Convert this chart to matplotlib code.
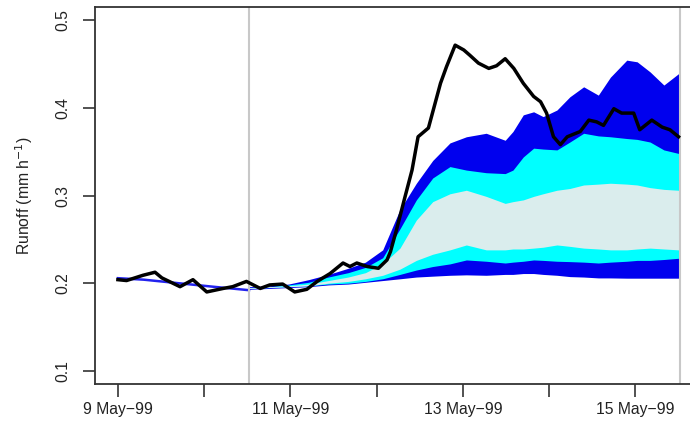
import matplotlib
matplotlib.use("Agg")
import matplotlib.pyplot as plt
import numpy as np

plt.rcParams['font.family'] = ['Liberation Sans', 'DejaVu Sans']

# Observed runoff (days since 1 May 1999, mm/h)
obs_t = [9.00, 9.10, 9.29, 9.43, 9.51, 9.72, 9.87, 10.03, 10.22, 10.33, 10.49,
         10.65, 10.76, 10.91, 11.05, 11.19, 11.31, 11.46, 11.61, 11.69, 11.77,
         11.89, 12.02, 12.12, 12.16, 12.23, 12.33, 12.41, 12.48, 12.60, 12.74,
         12.81, 12.91, 13.01, 13.08, 13.18, 13.30, 13.39, 13.49, 13.59, 13.70,
         13.82, 13.90, 13.97, 14.05, 14.13, 14.21, 14.36, 14.46, 14.55, 14.63,
         14.75, 14.84, 14.98, 15.05, 15.19, 15.31, 15.40, 15.50]
obs_q = [0.204, 0.203, 0.209, 0.2125, 0.206, 0.196, 0.204, 0.190, 0.194, 0.196, 0.202,
         0.194, 0.198, 0.199, 0.190, 0.193, 0.202, 0.211, 0.223, 0.219, 0.223,
         0.219, 0.217, 0.2265, 0.236, 0.261, 0.299, 0.329, 0.367, 0.377, 0.428,
         0.447, 0.4715, 0.466, 0.460, 0.451, 0.445, 0.448, 0.456, 0.445, 0.428,
         0.413, 0.407, 0.394, 0.367, 0.358, 0.367, 0.373, 0.386, 0.384, 0.380,
         0.399, 0.394, 0.394, 0.375, 0.386, 0.378, 0.375, 0.367]

# Simulation before forecast start
pre_t = [9.00, 9.30, 9.70, 10.10, 10.52]
pre_q = [0.2057, 0.204, 0.200, 0.196, 0.192]

# Forecast uncertainty bands
fc_t = [10.52, 10.75, 10.98, 11.21, 11.44, 11.67, 11.87, 12.07, 12.27, 12.46,
        12.65, 12.85, 13.04, 13.27, 13.49, 13.58, 13.70, 13.82, 13.93, 14.09,
        14.24, 14.40, 14.57, 14.71, 14.90, 15.02, 15.17, 15.33, 15.50]
outer_lo = [0.193, 0.194, 0.195, 0.196, 0.198, 0.199, 0.201, 0.203, 0.205, 0.207,
            0.208, 0.209, 0.2095, 0.209, 0.210, 0.210, 0.211, 0.211, 0.210, 0.209,
            0.2075, 0.207, 0.206, 0.206, 0.2057, 0.2057, 0.2057, 0.2057, 0.2057]
mid_lo = [0.194, 0.195, 0.196, 0.197, 0.199, 0.200, 0.202, 0.205, 0.210, 0.215,
          0.219, 0.222, 0.2265, 0.225, 0.223, 0.224, 0.225, 0.2265, 0.226, 0.225,
          0.2246, 0.224, 0.223, 0.224, 0.225, 0.226, 0.226, 0.227, 0.2284]
inner_lo = [0.194, 0.195, 0.196, 0.197, 0.200, 0.202, 0.205, 0.209, 0.216, 0.226,
            0.233, 0.238, 0.2436, 0.238, 0.238, 0.239, 0.239, 0.240, 0.241, 0.2436,
            0.242, 0.240, 0.239, 0.238, 0.238, 0.239, 0.240, 0.239, 0.238]
inner_hi = [0.195, 0.196, 0.197, 0.199, 0.203, 0.207, 0.212, 0.222, 0.240, 0.272,
            0.293, 0.302, 0.306, 0.299, 0.291, 0.293, 0.295, 0.299, 0.302, 0.306,
            0.308, 0.312, 0.313, 0.314, 0.313, 0.312, 0.309, 0.307, 0.306]
mid_hi = [0.195, 0.196, 0.198, 0.201, 0.207, 0.212, 0.218, 0.229, 0.262, 0.295,
          0.320, 0.333, 0.329, 0.326, 0.325, 0.329, 0.344, 0.354, 0.353, 0.352,
          0.361, 0.371, 0.368, 0.367, 0.365, 0.364, 0.361, 0.352, 0.348]
outer_hi = [0.196, 0.197, 0.199, 0.204, 0.210, 0.217, 0.224, 0.238, 0.284, 0.314,
            0.340, 0.360, 0.367, 0.371, 0.363, 0.373, 0.392, 0.3955, 0.390, 0.3975,
            0.4126, 0.424, 0.4145, 0.435, 0.4544, 0.4525, 0.441, 0.426, 0.439]

vlines_t = [10.52, 15.52]
tick_days = [9, 10, 11, 12, 13, 14, 15]
tick_labels = ["9 May\u221299", "", "11 May\u221299", "", "13 May\u221299", "", "15 May\u221299"]

fig = plt.figure(figsize=(6.9, 4.28), dpi=100)
ax = fig.add_axes([0.1384, 0.1028, 0.88, 0.8808])

ax.fill_between(fc_t, outer_lo, outer_hi, color="#0000EE", lw=0)
ax.fill_between(fc_t, mid_lo, mid_hi, color="#00FFFF", lw=0)
ax.fill_between(fc_t, inner_lo, inner_hi, color="#DAEDED", lw=0)
ax.plot(pre_t, pre_q, color="#2222EE", lw=1.8)

for v in vlines_t:
    ax.axvline(v, color="#C8C8C8", lw=1.5)

ax.plot(obs_t, obs_q, color="black", lw=2.5, solid_joinstyle="round")

ax.set_xlim(8.74, 15.78)
ax.set_ylim(0.085, 0.515)
ax.set_xticks(tick_days)
ax.set_xticklabels(tick_labels)
ax.set_yticks([0.1, 0.2, 0.3, 0.4, 0.5])
ax.set_yticklabels(["0.1", "0.2", "0.3", "0.4", "0.5"])

ax.tick_params(axis="both", direction="out", length=9, width=1.2, color="#333333",
               labelsize=11.3, labelcolor="#222222")
ax.tick_params(axis="x", pad=4)
ax.tick_params(axis="y", pad=9, labelrotation=90)
for lab in ax.get_yticklabels():
    lab.set_va("center")

for s in ax.spines.values():
    s.set_color("#333333")
    s.set_linewidth(1.3)

ax.set_ylabel("Runoff (mm h$^{-1}$)", fontsize=11.3, color="#222222")
ax.yaxis.set_label_coords(-0.10, 0.5)

fig.savefig("out.png", dpi=100)
